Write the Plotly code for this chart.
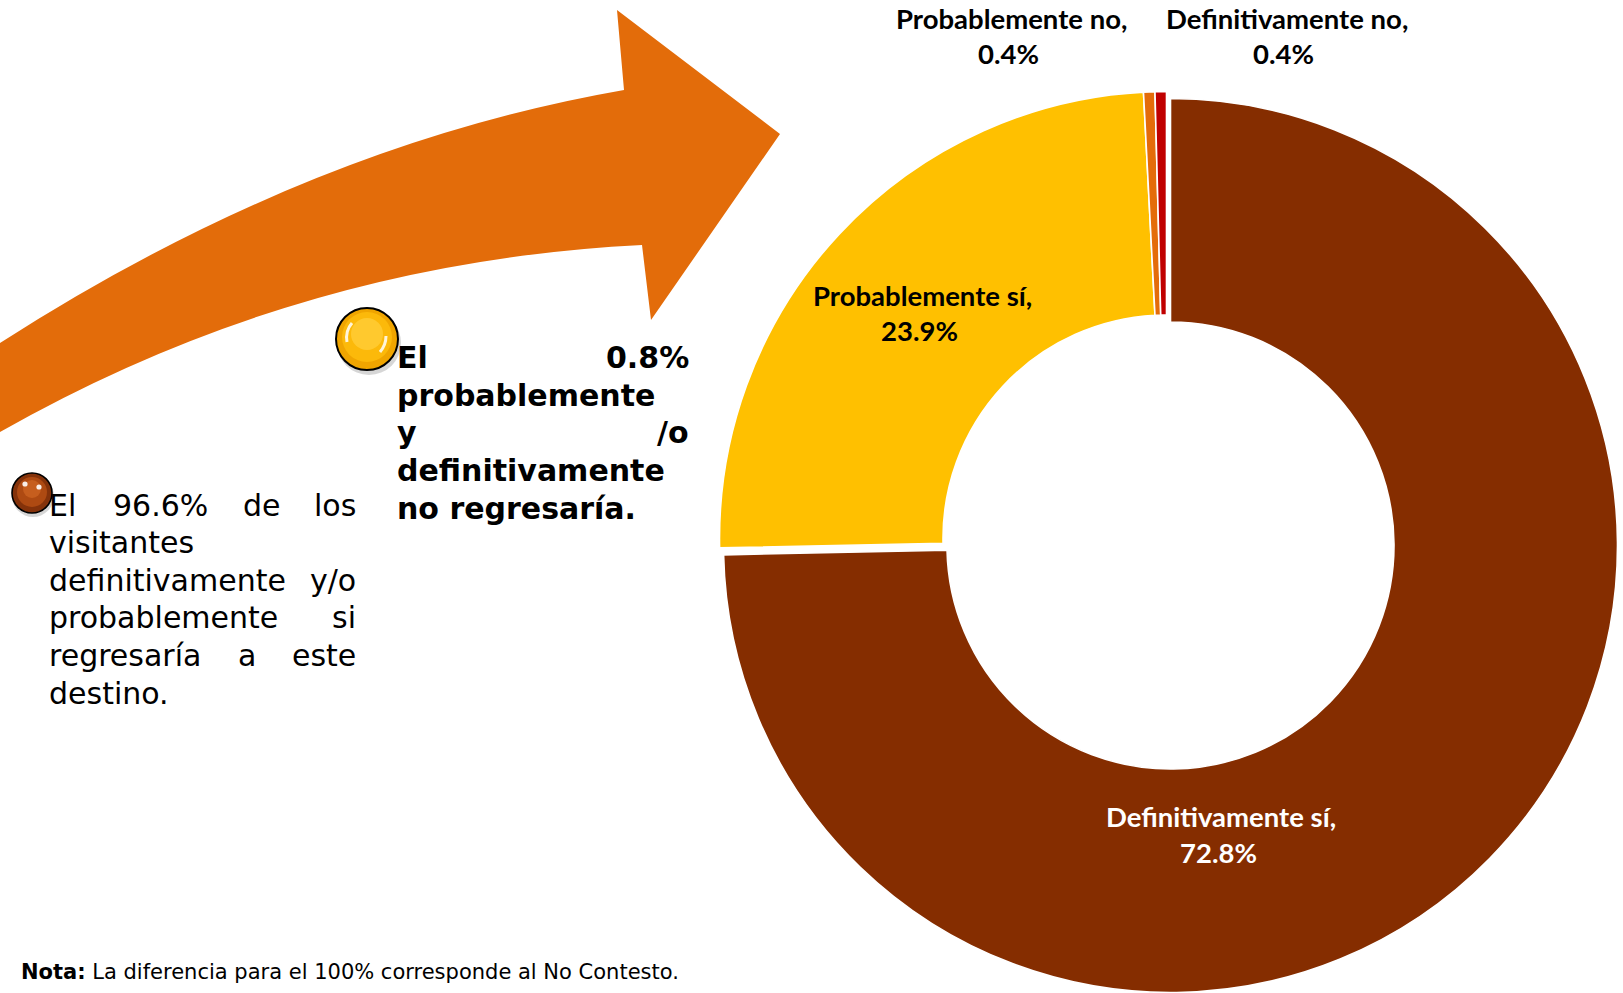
import plotly.graph_objects as go

# Survey answers: will the visitor come back to this destination?
categories = ["Definitivamente sí", "Probablemente sí", "Probablemente no", "Definitivamente no"]
percentages = [72.8, 23.9, 0.4, 0.4]
slice_colors = ["#852D00", "#FFC000", "#E46C0A", "#C00000"]
label_colors = ["white", "black", "black", "black"]

summary_return = "El 96.6% de los visitantes definitivamente y/o probablemente si regresaría a este destino."
summary_no_return = "El 0.8% probablemente y /o definitivamente no regresaría."
footnote_bold = "Nota:"
footnote_text = "La diferencia para el 100% corresponde al No Contesto."

W, H = 1623, 993
CLEAR = "rgba(0,0,0,0)"


def px(x):
    return x / W


def py(y):
    return 1 - y / H


def pie_domain(cx, cy, r):
    return dict(x=[px(cx - r), px(cx + r)], y=[py(cy + r), py(cy - r)])


# donut geometry (pixels); the "no / probablemente sí" wedges are exploded up-left
CX, CY, R = 1170.5, 545.5, 447
EX_DX, EX_DY = -4, -7

fig = go.Figure()

common = dict(
    labels=categories,
    values=percentages,
    sort=False,
    direction="clockwise",
    rotation=0,
    hole=0.5,
    textinfo="none",
    showlegend=False,
    hovertemplate="%{label}: %{value}%<extra></extra>",
)

# main wedge
fig.add_trace(go.Pie(
    **common,
    domain=pie_domain(CX, CY, R),
    marker=dict(
        colors=[slice_colors[0], CLEAR, CLEAR, CLEAR],
        line=dict(color=["white", CLEAR, CLEAR, CLEAR], width=1.6),
    ),
))
# exploded wedges
fig.add_trace(go.Pie(
    **common,
    domain=pie_domain(CX + EX_DX, CY + EX_DY, R),
    marker=dict(
        colors=[CLEAR] + slice_colors[1:],
        line=dict(color=[CLEAR, "white", "white", "white"], width=1.6),
    ),
))

shapes = []

# big curved arrow pointing at the donut
arrow_pts = (
    f"M {px(0)},{py(343)} "
    f"Q {px(308)},{py(145)} {px(624)},{py(90)} "
    f"L {px(617)},{py(10)} "
    f"L {px(780)},{py(134)} "
    f"L {px(651)},{py(320)} "
    f"L {px(642)},{py(245)} "
    f"Q {px(299)},{py(262)} {px(0)},{py(432)} Z"
)
shapes.append(dict(type="path", xref="paper", yref="paper", path=arrow_pts,
                   fillcolor="#E36C0A", line=dict(width=0), layer="below"))


def circle(cx, cy, r, fill, line_color=None, line_width=0):
    return dict(type="circle", xref="paper", yref="paper",
                x0=px(cx - r), x1=px(cx + r), y0=py(cy + r), y1=py(cy - r),
                fillcolor=fill,
                line=dict(color=line_color or CLEAR, width=line_width))


def stroke(points, color, width):
    d = f"M {px(points[0][0])},{py(points[0][1])} Q {px(points[1][0])},{py(points[1][1])} {px(points[2][0])},{py(points[2][1])}"
    return dict(type="path", xref="paper", yref="paper", path=d,
                line=dict(color=color, width=width))


# glossy yellow bullet
shapes += [
    circle(369, 343, 32, "rgba(0,0,0,0.16)"),
    circle(367, 339, 31, "#F0A500", "black", 2),
    circle(367, 337, 25, "#FCB90A"),
    circle(367, 334, 16, "#FFC92E"),
    stroke([(352, 323), (345, 331), (347, 342)], "rgba(255,255,255,0.85)", 3),
    stroke([(386, 336), (386, 345), (380, 352)], "rgba(255,255,255,0.85)", 3),
]
# glossy brown bullet
shapes += [
    circle(33, 496, 21, "rgba(0,0,0,0.16)"),
    circle(32, 493, 20, "#84320A", "black", 1.6),
    circle(32, 492, 15, "#AE4A12"),
    circle(32, 489, 9, "#C65E1E"),
    circle(25, 484, 2.6, "rgba(255,255,255,0.9)"),
    circle(39, 487, 2.6, "rgba(255,255,255,0.9)"),
]

annotations = []


def note(x, y, text, size, color="black", family="DejaVu Sans", xanchor="left"):
    annotations.append(dict(
        xref="paper", yref="paper", x=px(x), y=py(y), text=text,
        showarrow=False, xanchor=xanchor, yanchor="middle",
        font=dict(family=family, size=size, color=color),
    ))


# slice labels (name on one line, value on the next)
label_pos = [
    ((1221, 816), (1218, 852)),
    ((922, 295), (919, 331)),
    ((1011, 19), (1008, 54)),
    ((1287, 19), (1283, 54)),
]
for name, val, col, (p1, p2) in zip(categories, percentages, label_colors, label_pos):
    note(p1[0], p1[1], f"<b>{name},</b>", 27.5, col, "Lato", "center")
    note(p2[0], p2[1], f"<b>{val:.1f}%</b>", 27.5, col, "Lato", "center")

# justified paragraph: words laid out line by line
TXT = 30
left1, right1 = 47, 358
y1 = [505, 542.6, 580.2, 617.8, 655.4, 693]
w = summary_return.split()
para1 = [
    [(w[0], left1, "left"), (w[1], 160, "center"), (w[2], 262, "center"), (w[3], right1, "right")],
    [(w[4], left1, "left")],
    [(w[5], left1, "left"), (w[6], right1, "right")],
    [(w[7], left1, "left"), (w[8], right1, "right")],
    [(w[9], left1, "left"), (w[10], 247, "center"), (w[11], right1, "right")],
    [(w[12], left1, "left")],
]
for row, yy in zip(para1, y1):
    for word, xx, anc in row:
        note(xx, yy, word, TXT, xanchor=anc)

left2, right2 = 395, 691
y2 = [357, 395, 433, 471, 508]
v = summary_no_return.split()
para2 = [
    [(v[0], left2, "left"), (v[1], right2, "right")],
    [(v[2], left2, "left")],
    [(v[3], left2, "left"), (v[4], right2, "right")],
    [(v[5], left2, "left")],
    [(" ".join(v[6:8]), left2, "left")],
]
for row, yy in zip(para2, y2):
    for word, xx, anc in row:
        note(xx, yy, f"<b>{word}</b>", TXT, xanchor=anc)

note(19, 972, f"<b>{footnote_bold}</b> {footnote_text}", 21)

fig.update_layout(
    width=W, height=H,
    margin=dict(l=0, r=0, t=0, b=0),
    paper_bgcolor="white",
    plot_bgcolor="white",
    shapes=shapes,
    annotations=annotations,
)

fig.write_html("out.html")
